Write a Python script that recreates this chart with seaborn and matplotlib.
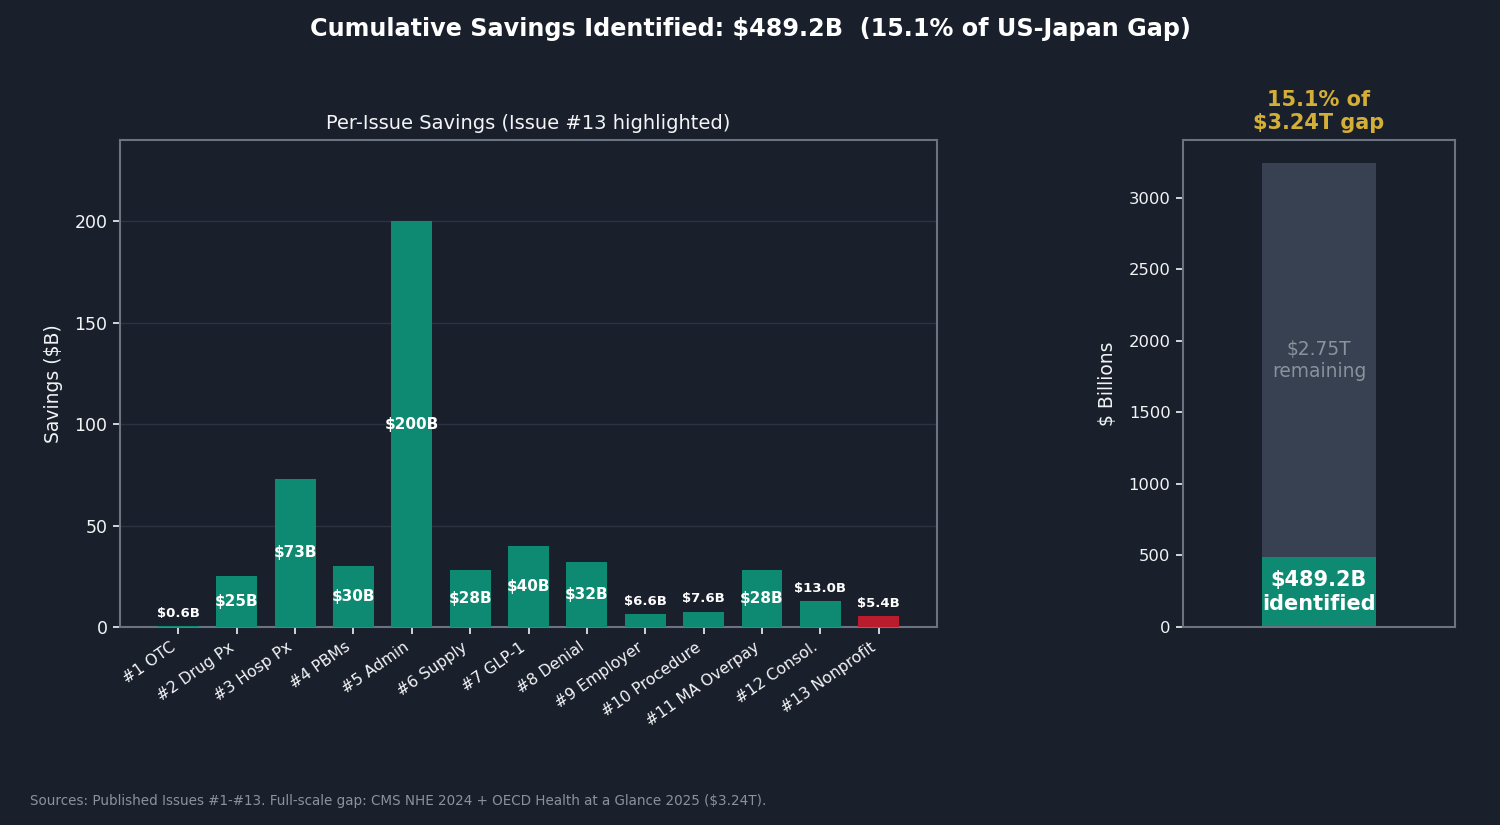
import seaborn as sns
import matplotlib.pyplot as plt

# data
issues = ['#1 OTC', '#2 Drug Px', '#3 Hosp Px', '#4 PBMs', '#5 Admin', '#6 Supply',
          '#7 GLP-1', '#8 Denial', '#9 Employer', '#10 Procedure', '#11 MA Overpay',
          '#12 Consol.', '#13 Nonprofit']
savings = [0.6, 25, 73, 30, 200, 28, 40, 32, 6.6, 7.6, 28, 13.0, 5.4]
highlight = '#13 Nonprofit'
gap_total = 3240
identified = sum(savings)

BG = '#1a1f2c'
TEAL = '#0f8a72'
RED = '#b91c2c'
GREY_BAR = '#374151'
SPINE = '#6b7280'
GOLD = '#d4af37'
TXT = '#f3f4f6'

sns.set_theme(style='dark')
plt.rcParams['font.family'] = ['DejaVu Sans']

fig = plt.figure(figsize=(15, 8.25), dpi=100, facecolor=BG)
ax = fig.add_axes([0.08, 0.24, 0.5447, 0.5903])
ax2 = fig.add_axes([0.7887, 0.24, 0.1813, 0.5903])

for a in (ax, ax2):
    a.set_facecolor(BG)
    for s in a.spines.values():
        s.set_visible(True)
        s.set_color(SPINE)
        s.set_linewidth(1.5)
    a.tick_params(colors=TXT, length=5, width=1.2, color=TXT, pad=4, left=True, bottom=True)

# --- left: per-issue savings
palette = {k: (RED if k == highlight else TEAL) for k in issues}
sns.barplot(x=issues, y=savings, hue=issues, palette=palette, legend=False,
            width=0.7, saturation=1, linewidth=0, edgecolor='none', ax=ax, zorder=3)
ax.set_xlim(-1, 13)
ax.set_ylim(0, 240)
ax.set_yticks([0, 50, 100, 150, 200])
ax.grid(axis='y', color='#2c3342', linewidth=1, zorder=0)
ax.grid(axis='x', visible=False)
ax.tick_params(axis='y', labelsize=12.5)
ax.tick_params(axis='x', labelsize=11.3)
plt.setp(ax.get_xticklabels(), rotation=35, ha='right')
ax.set_ylabel('Savings ($B)', color=TXT, fontsize=13.5, labelpad=8)
ax.set_title('Per-Issue Savings (Issue #13 highlighted)', color=TXT, fontsize=14, pad=8)

for i, v in enumerate(savings):
    if v >= 20:
        ax.text(i, v / 2, f'${v:.0f}B', ha='center', va='center', color='white',
                fontsize=11, fontweight='bold', zorder=4)
    else:
        ax.text(i, v + 3, f'${v:.1f}B', ha='center', va='bottom', color='white',
                fontsize=9.5, fontweight='bold', zorder=4)

# --- right: share of full gap
sns.barplot(x=['gap'], y=[gap_total], color=GREY_BAR, saturation=1, width=0.5,
            linewidth=0, edgecolor='none', ax=ax2)
sns.barplot(x=['gap'], y=[identified], color=TEAL, saturation=1, width=0.5,
            linewidth=0, edgecolor='none', ax=ax2)
ax2.set_xlim(-0.6, 0.6)
ax2.set_ylim(0, gap_total * 1.05)
ax2.set_xticks([])
ax2.grid(False)
ax2.tick_params(axis='y', labelsize=11.8)
ax2.set_ylabel('$ Billions', color=TXT, fontsize=13.5, labelpad=8)
ax2.set_title(f'{identified / gap_total * 100:.1f}% of\n$3.24T gap', color=GOLD,
              fontsize=15, fontweight='bold', pad=8)
ax2.text(0, identified / 2, f'${identified:.1f}B\nidentified', ha='center', va='center',
         color='white', fontsize=15, fontweight='bold')
ax2.text(0, (identified + gap_total) / 2, f'${(gap_total - identified) / 1000:.2f}T\nremaining',
         ha='center', va='center', color='#8b929e', fontsize=13.4)

fig.suptitle(f'Cumulative Savings Identified: ${identified:.1f}B  (15.1% of US-Japan Gap)',
             color='white', fontsize=17.2, fontweight='bold', y=0.979)
fig.text(0.02, 0.024, 'Sources: Published Issues #1-#13. Full-scale gap: CMS NHE 2024 + '
         'OECD Health at a Glance 2025 ($3.24T).', color='#8b929e', fontsize=9.75)

fig.savefig('out.png', dpi=100, facecolor=BG)
